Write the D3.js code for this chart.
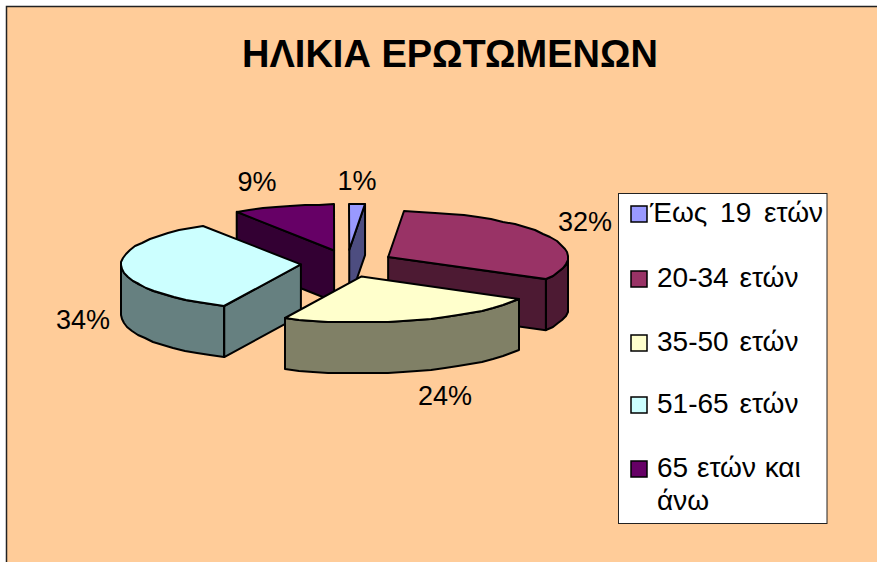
<!DOCTYPE html>
<html><head><meta charset="utf-8">
<script src="https://cdn.jsdelivr.net/npm/d3@7/dist/d3.min.js"></script>
<style>html,body{margin:0;padding:0;background:#fff;overflow:hidden}svg{display:block}text{font-family:"Liberation Sans",Arial,sans-serif;fill:#000}</style>
</head><body><svg id="c" width="877" height="562"></svg>
<script>
const categories = ["Έως 19 ετών","20-34 ετών","35-50 ετών","51-65 ετών","65 ετών και άνω"];
const values = [1.4,31.6,24,33.9,9.1];
const topColors = ["#9999FF","#993366","#FFFFCC","#CCFFFF","#660066"];
const sideColors = ["#4D4D80","#4D1A33","#808066","#668080","#330033"];
const titleText = "ΗΛΙΚΙΑ ΕΡΩΤΩΜΕΝΩΝ";

const W=877,H=562;
const cx=347.2, cy=263.5, rx=180, ry=46, depth=51, exX=46.4, exY=13.6;
const labelPos=[[357,190],[585,231],[445,405],[83,329],[257,191]];
const legendRows=[222,287,351,413,477];
const svg=d3.select("#c");
svg.append("rect").attr("x",6).attr("y",6).attr("width",W-6).attr("height",H-6).attr("fill","#FFCC99");
svg.append("path").attr("d",`M6.5,${H}V6.5H${W}`).attr("fill","none").attr("stroke","#222").attr("stroke-width",1.5);
svg.append("text").attr("x",450).attr("y",67).attr("text-anchor","middle").attr("font-size",38).attr("font-weight","bold").text(titleText);

const arcs=d3.pie().sort(null)(values);
const stroke={stroke:"#000","stroke-width":2,"stroke-linejoin":"round"};
const line=d3.line();
function pts(a0,a1,ox,oy,dy){
  const n=Math.max(1,Math.ceil((a1-a0)/(Math.PI/36))),out=[];
  for(let i=0;i<=n;i++){const a=a0+(a1-a0)*i/n;
    out.push([Math.round(ox+rx*Math.sin(a)),Math.round(oy-ry*Math.cos(a)+dy)]);}
  return out;
}
function poly(p,fill){
  const s=svg.append("path").attr("d",line(p)+"Z").attr("fill",fill);
  Object.entries(stroke).forEach(([k,v])=>s.attr(k,v));
}
const order=[4,0,1,3,2];
order.forEach(i=>{
  const d=arcs[i],mid=(d.startAngle+d.endAngle)/2;
  const ox=cx+exX*Math.sin(mid),oy=cy-exY*Math.cos(mid);
  const P=a=>[ox+rx*Math.sin(a),oy-ry*Math.cos(a)];
  const cut=a=>{const q=P(a);return [[ox,oy],q,[q[0],q[1]+depth],[ox,oy+depth]];};
  if(Math.sin(d.startAngle)<-1e-6) poly(cut(d.startAngle),sideColors[i]);
  if(Math.sin(d.endAngle)>1e-6) poly(cut(d.endAngle),sideColors[i]);
  const w0=Math.max(d.startAngle,Math.PI/2),w1=Math.min(d.endAngle,3*Math.PI/2);
  if(w1>w0) poly(pts(w0,w1,ox,oy,0).concat(pts(w0,w1,ox,oy,depth).reverse()),sideColors[i]);
  poly([[ox,oy]].concat(pts(d.startAngle,d.endAngle,ox,oy,0)),topColors[i]);
});

const fmt=d3.format(".0f");
values.forEach((v,i)=>{
  svg.append("text").attr("x",labelPos[i][0]).attr("y",labelPos[i][1]).attr("text-anchor","middle").attr("font-size",27).text(fmt(v)+"%");
});

svg.append("rect").attr("x",618.5).attr("y",193.5).attr("width",208.5).attr("height",330).attr("fill","#fff").attr("stroke","#222").attr("stroke-width",1);
categories.forEach((c,i)=>{
  const b=legendRows[i];
  svg.append("rect").attr("x",631).attr("y",b-16).attr("width",16).attr("height",16).attr("fill",topColors[i]).attr("stroke","#000").attr("stroke-width",1.5);
  if(i===4){
    const t=svg.append("text").attr("font-size",28).attr("word-spacing",1);
    t.append("tspan").attr("x",657).attr("y",b).text("65 ετών και");
    t.append("tspan").attr("x",657).attr("y",b+33).text("άνω");
  } else {
    svg.append("text").attr("x",i===0?650:657).attr("y",b).attr("font-size",28).attr("word-spacing",i===0?5:3).text(c);
  }
});
</script></body></html>
